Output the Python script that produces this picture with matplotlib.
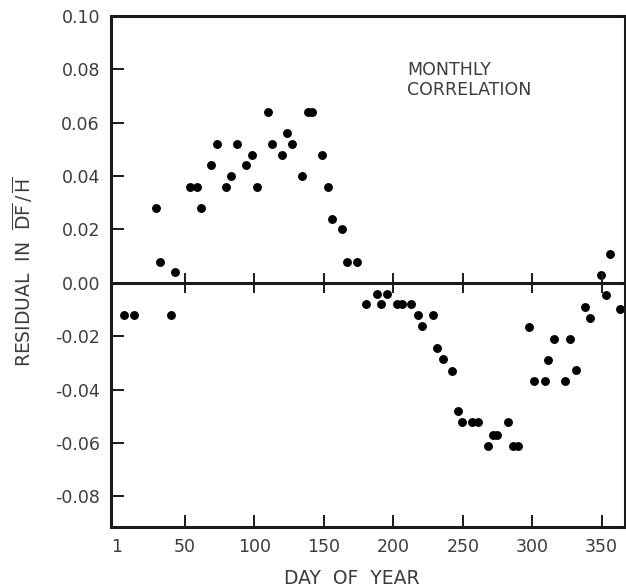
import matplotlib
matplotlib.use("Agg")
import matplotlib.pyplot as plt

# day of year and residual in DF/H
day_pos = [28.9, 32, 42.8, 53.6, 58.4, 61.3, 68.5, 72.8, 79.5, 83.1,
           87.2, 93.9, 98.0, 101.6, 109.5, 112.4, 120.0, 123.7, 127.3, 134.0,
           138.8, 141.6, 148.8, 152.7, 156.0, 163.2, 166.4, 174.0, 349.3, 356.0]
res_pos = [0.028, 0.008, 0.004, 0.036, 0.036, 0.028, 0.044, 0.052, 0.036, 0.040,
           0.052, 0.044, 0.048, 0.036, 0.064, 0.052, 0.048, 0.056, 0.052, 0.040,
           0.064, 0.064, 0.048, 0.036, 0.024, 0.020, 0.008, 0.008, 0.003, 0.011]

day_neg = [6.1, 13.5, 39.7, 180.3, 188.4, 191.1, 195.6, 202.4, 206.0, 212.7,
           217.5, 220.4, 228.3, 231.6, 235.5, 242.0, 246.3, 249.6, 256.8, 261.2,
           268.4, 272.0, 274.8, 282.8, 285.9, 290.0, 297.7, 301.5, 309.2, 311.6,
           315.9, 323.6, 327.2, 331.3, 338.0, 341.6, 352.9, 363.2]
res_neg = [-0.012, -0.012, -0.012, -0.008, -0.004, -0.008, -0.004, -0.008, -0.008, -0.008,
           -0.012, -0.016, -0.012, -0.0245, -0.0285, -0.033, -0.048, -0.052, -0.052, -0.052,
           -0.061, -0.057, -0.057, -0.052, -0.061, -0.061, -0.0166, -0.0366, -0.0366, -0.0288,
           -0.021, -0.0366, -0.021, -0.0328, -0.0089, -0.013, -0.0045, -0.0097]

x_ticks = [1, 50, 100, 150, 200, 250, 300, 350]
x_labels = ["1", "50", "100", "150", "200", "250", "300", "350"]
y_ticks = [-0.08, -0.06, -0.04, -0.02, 0.00, 0.02, 0.04, 0.06, 0.08, 0.10]
y_labels = ["-0.08", "-0.06", "-0.04", "-0.02", "0.00", "0.02", "0.04", "0.06", "0.08", "0.10"]

ink = "#1a1a1a"
txt = "#3c3c3c"

plt.rcParams["font.family"] = "DejaVu Sans"
plt.rcParams["mathtext.fontset"] = "dejavusans"

fig = plt.figure(figsize=(6.26, 5.87), dpi=100)
ax = fig.add_axes([0.1773, 0.1022, 0.8211, 0.8705])

ax.plot(day_pos + day_neg, res_pos + res_neg, "o", color="black", ms=6.4, mew=0)

# zero line with small cross ticks
ax.axhline(0, color=ink, lw=2.2)
ax.plot(x_ticks[1:], [0] * (len(x_ticks) - 1), ls="none", marker="|",
        ms=14, mew=1.4, color=ink)

ax.set_xlim(-3.3, 366.8)
ax.set_ylim(-0.0915, 0.10)

ax.set_xticks(x_ticks)
ax.set_xticklabels(x_labels)
ax.set_yticks(y_ticks)
ax.set_yticklabels(y_labels)
ax.tick_params(axis="both", direction="in", length=9, width=1.4, color=ink,
               labelsize=12.5, labelcolor=txt, pad=8)
ax.xaxis.get_major_ticks()[0].tick1line.set_visible(False)

for s in ax.spines.values():
    s.set_linewidth(2.2)
    s.set_color(ink)

ax.set_xlabel("DAY  OF  YEAR", fontsize=13.5, color=txt)
ax.xaxis.set_label_coords(0.469, -0.083)
ax.set_ylabel(r"RESIDUAL  IN  $\overline{\mathrm{DF}}\,/\,\overline{\mathrm{H}}$",
              fontsize=13.5, color=txt)
ax.yaxis.set_label_coords(-0.148, 0.5)

ax.text(0.576, 0.912, "MONTHLY\nCORRELATION", transform=ax.transAxes,
        ha="left", va="top", fontsize=12.5, color=txt, linespacing=1.15)

fig.savefig("out.png", dpi=100)
